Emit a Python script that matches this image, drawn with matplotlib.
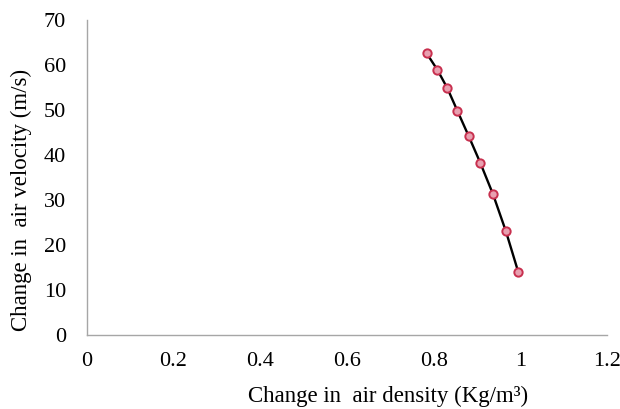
import matplotlib
matplotlib.use("Agg")
import matplotlib.pyplot as plt

density = [0.784, 0.809, 0.832, 0.855, 0.881, 0.908, 0.937, 0.967, 0.995]
velocity = [62.6, 58.9, 54.8, 49.8, 44.2, 38.2, 31.3, 23.0, 14.1]
xticks = [0, 0.2, 0.4, 0.6, 0.8, 1, 1.2]
xtick_labels = ["0", "0.2", "0.4", "0.6", "0.8", "1", "1.2"]
yticks = [0, 10, 20, 30, 40, 50, 60, 70]

plt.rcParams['font.family'] = ['Liberation Serif', 'DejaVu Serif']

fig = plt.figure(figsize=(6.2, 4.09), dpi=100)
ax = fig.add_axes([0.140, 0.181, 0.839, 0.770])
ax.plot(density, velocity, color='black', lw=1.7, zorder=2,
        marker='o', markersize=6, markerfacecolor='#e8a0b0',
        markeredgecolor='#c8304f', markeredgewidth=1.4)
ax.set_xlim(0, 1.2)
ax.set_ylim(0, 70)
ax.set_xticks(xticks)
ax.set_xticklabels(xtick_labels)
ax.set_yticks(yticks)
ax.tick_params(length=0, labelsize=16, pad=12)
ax.tick_params(axis='y', pad=15)
for s in ['top', 'right']:
    ax.spines[s].set_visible(False)
for s in ['left', 'bottom']:
    ax.spines[s].set_color('#a6a6a6')
    ax.spines[s].set_linewidth(1.0)
fig.text(0.626, 0.03, "Change in  air density (Kg/m³)", fontsize=16.5,
         ha='center', va='center')
fig.text(0.035, 0.511, "Change in  air velocity (m/s)", fontsize=16.5,
         ha='center', va='center', rotation=90)
fig.savefig("out.png", dpi=100)
